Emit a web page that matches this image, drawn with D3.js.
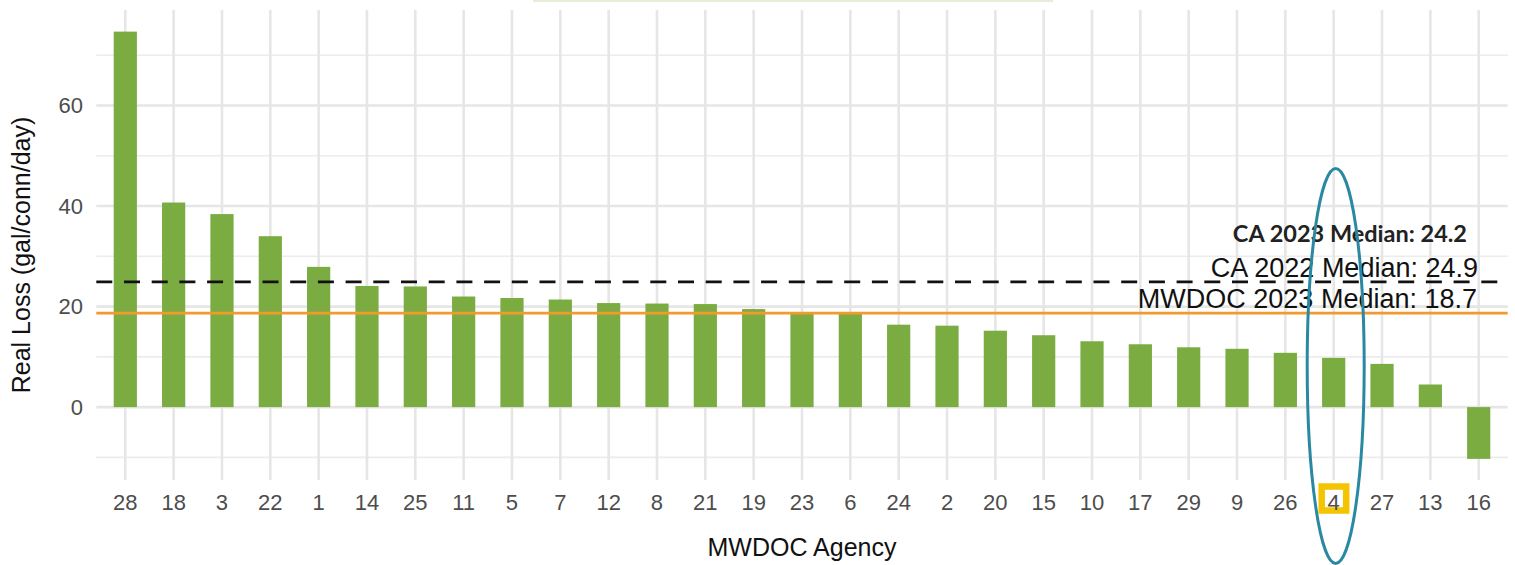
<!DOCTYPE html>
<html>
<head>
<meta charset="utf-8">
<script src="https://cdn.jsdelivr.net/npm/d3@7"></script>
<style>
  body { margin: 0; background: #fff; }
  svg { display: block; font-family: "Liberation Sans", Arial, sans-serif; }
</style>
</head>
<body>
<svg id="chart" width="1515" height="565"></svg>
<script>
// agencies sorted by real loss, as shown on the chart
var agencies = ["28","18","3","22","1","14","25","11","5","7","12","8","21","19","23","6","24","2","20","15","10","17","29","9","26","4","27","13","16"];
var realLoss = [74.7,40.7,38.4,34.0,27.9,24.1,24.0,22.0,21.7,21.4,20.7,20.6,20.5,19.5,18.7,18.8,16.4,16.2,15.2,14.3,13.1,12.5,11.9,11.6,10.8,9.8,8.6,4.5,-10.3];

var majorTicks = [0, 20, 40, 60];
var minorTicks = [-10, 10, 30, 50, 70];

var medianNames = ["CA 2022 Median", "MWDOC 2023 Median"];
var medianValues = [24.9, 18.7];
var ca2023Median = 24.2;
var highlighted = "4";

var svg = d3.select("#chart");

var panelLeft = 96.3, panelRight = 1507.7, panelTop = 10, panelBottom = 480;

var x = d3.scaleBand()
  .domain(agencies)
  .range([panelLeft, panelRight])
  .paddingInner(0.52)
  .paddingOuter(0.36);

var y = d3.scaleLinear()
  .domain([-14.5, 79])
  .range([panelBottom, panelTop]);

var grid = svg.append("g").attr("class", "grid");

grid.selectAll(".minor")
  .data(minorTicks)
  .enter().append("line")
  .attr("x1", panelLeft).attr("x2", panelRight)
  .attr("y1", function(d) { return y(d); })
  .attr("y2", function(d) { return y(d); })
  .attr("stroke", "#ececec")
  .attr("stroke-width", 1.6);

grid.selectAll(".major")
  .data(majorTicks)
  .enter().append("line")
  .attr("x1", panelLeft).attr("x2", panelRight)
  .attr("y1", function(d) { return y(d); })
  .attr("y2", function(d) { return y(d); })
  .attr("stroke", "#e6e6e6")
  .attr("stroke-width", 2.6);

grid.selectAll(".vert")
  .data(agencies)
  .enter().append("line")
  .attr("x1", function(d) { return x(d) + x.bandwidth() / 2; })
  .attr("x2", function(d) { return x(d) + x.bandwidth() / 2; })
  .attr("y1", panelTop).attr("y2", panelBottom)
  .attr("stroke", "#e6e6e6")
  .attr("stroke-width", 2.6);

// bars
svg.append("g")
  .selectAll("rect")
  .data(agencies)
  .enter().append("rect")
  .attr("x", function(d) { return x(d); })
  .attr("width", x.bandwidth())
  .attr("y", function(d, i) { return y(Math.max(0, realLoss[i])); })
  .attr("height", function(d, i) { return Math.abs(y(realLoss[i]) - y(0)); })
  .attr("fill", "#7aac42");

// median lines
svg.append("line")
  .attr("x1", panelLeft).attr("x2", panelRight)
  .attr("y1", y(medianValues[0])).attr("y2", y(medianValues[0]))
  .attr("stroke", "#111")
  .attr("stroke-width", 2.8)
  .attr("stroke-dasharray", "16,11.7");

svg.append("line")
  .attr("x1", panelLeft).attr("x2", panelRight)
  .attr("y1", y(medianValues[1])).attr("y2", y(medianValues[1]))
  .attr("stroke", "#f29a2e")
  .attr("stroke-width", 2.8);

// median labels
svg.append("text")
  .attr("x", 1478).attr("y", y(medianValues[0]) - 5)
  .attr("text-anchor", "end")
  .attr("font-size", 27)
  .attr("fill", "#111")
  .text(medianNames[0] + ": " + medianValues[0]);

svg.append("text")
  .attr("x", 1477).attr("y", y(medianValues[1]) - 5.5)
  .attr("text-anchor", "end")
  .attr("font-size", 27)
  .attr("fill", "#111")
  .text(medianNames[1] + ": " + medianValues[1]);

svg.append("text")
  .attr("x", 1467).attr("y", 241.5)
  .attr("text-anchor", "end")
  .attr("font-family", "Lato, 'Open Sans', sans-serif")
  .attr("font-weight", "bold")
  .attr("font-size", 23.5)
  .attr("fill", "#222")
  .text("CA 2023 Median: " + ca2023Median);

// axes text
svg.append("g")
  .selectAll("text")
  .data(majorTicks)
  .enter().append("text")
  .attr("x", 83)
  .attr("y", function(d) { return y(d); })
  .attr("dy", "0.36em")
  .attr("text-anchor", "end")
  .attr("font-size", 22)
  .attr("fill", "#4d4d4d")
  .text(function(d) { return d; });

// highlight box behind the tick label
var hx = x(highlighted) + x.bandwidth() / 2;
svg.append("rect")
  .attr("x", hx - 12).attr("y", 486.5)
  .attr("width", 24.5).attr("height", 24)
  .attr("fill", "#fff")
  .attr("stroke", "#f5c400")
  .attr("stroke-width", 6.5);

svg.append("g")
  .selectAll("text")
  .data(agencies)
  .enter().append("text")
  .attr("x", function(d) { return x(d) + x.bandwidth() / 2; })
  .attr("y", 510)
  .attr("text-anchor", "middle")
  .attr("font-size", 22)
  .attr("fill", "#4d4d4d")
  .text(function(d) { return d; });

svg.append("text")
  .attr("x", (panelLeft + panelRight) / 2).attr("y", 556)
  .attr("text-anchor", "middle")
  .attr("font-size", 25)
  .attr("fill", "#111")
  .text("MWDOC Agency");

svg.append("text")
  .attr("transform", "translate(30," + ((panelTop + panelBottom) / 2 + 10) + ") rotate(-90)")
  .attr("text-anchor", "middle")
  .attr("font-size", 25)
  .attr("fill", "#111")
  .text("Real Loss (gal/conn/day)");

// ellipse around the highlighted agency
svg.append("ellipse")
  .attr("cx", hx + 2).attr("cy", 366)
  .attr("rx", 28.5).attr("ry", 197.5)
  .attr("fill", "none")
  .attr("stroke", "#2b88a3")
  .attr("stroke-width", 3);

// faint strip at the top edge
svg.append("rect")
  .attr("x", 533).attr("y", 0)
  .attr("width", 520).attr("height", 2)
  .attr("fill", "#e4eed8");
</script>
</body>
</html>
